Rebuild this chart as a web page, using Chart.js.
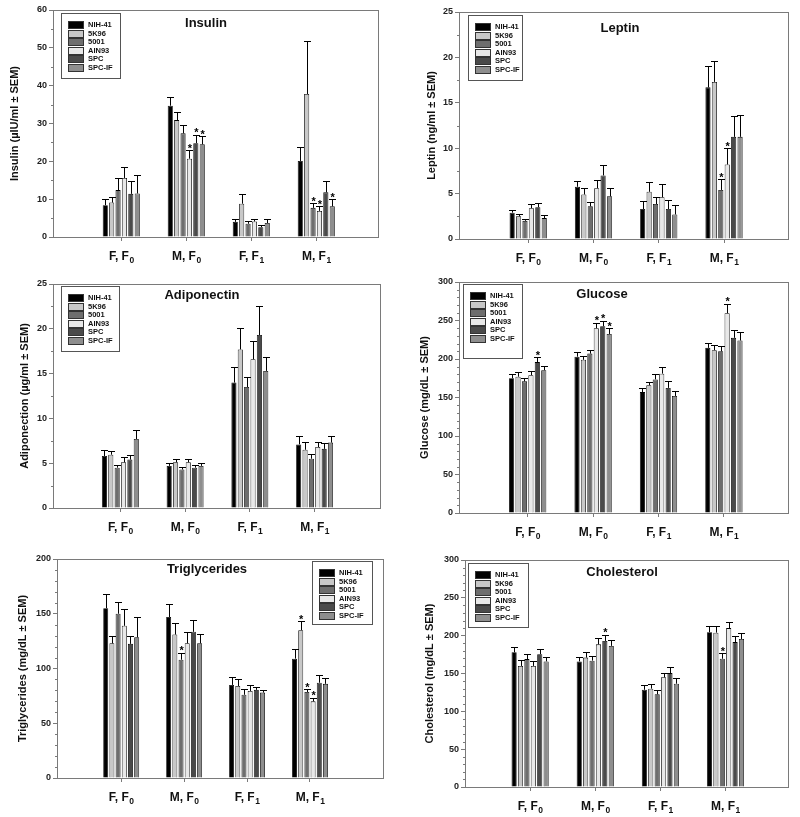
<!DOCTYPE html>
<html>
<head>
<meta charset="utf-8">
<script src="https://cdn.jsdelivr.net/npm/chart.js@4.4.1/dist/chart.umd.min.js"></script>
<style>
  body { margin: 0; background: #fff; }
  #wrap { position: relative; width: 800px; height: 817px; }
  .cell { position: absolute; }
</style>
</head>
<body>
<div id="wrap"></div>
<script>
// ── Data ───────────────────────────────────────────────────────────────────
const diets     = ["NIH-41", "5K96", "5001", "AIN93", "SPC", "SPC-IF"];
const groupSex  = ["F", "M", "F", "M"];
const groupGen  = ["0", "0", "1", "1"];   // subscript generation

// each row = one diet, columns = F,F0 / M,F0 / F,F1 / M,F1
const insulinMean = [
  [8.4, 34.7, 4.0, 20.1],
  [9.1, 30.9, 8.8, 37.8],
  [12.4, 27.4, 3.5, 7.7],
  [15.6, 20.7, 4.1, 6.9],
  [11.4, 24.8, 2.6, 11.8],
  [11.5, 24.5, 3.7, 8.1],
];
const insulinSem = [
  [1.6, 2.2, 0.8, 3.8],
  [1.5, 2.2, 2.5, 14.1],
  [3.1, 2.2, 0.6, 1.2],
  [2.8, 2.2, 0.7, 1.2],
  [3.3, 2.2, 0.7, 3.1],
  [4.9, 2.1, 1.0, 1.9],
];
const insulinStars = [[3, 1], [4, 1], [5, 1], [2, 3], [3, 3], [5, 3]];
const insulinTicks = [0, 10, 20, 30, 40, 50, 60];

const leptinMean = [
  [2.9, 5.75, 3.3, 16.7],
  [2.5, 4.9, 5.2, 17.3],
  [2.0, 3.6, 3.85, 5.4],
  [3.4, 5.6, 4.6, 8.2],
  [3.5, 7.0, 3.3, 11.25],
  [2.3, 4.7, 2.7, 11.25],
];
const leptinSem = [
  [0.3, 0.65, 0.9, 2.4],
  [0.3, 0.7, 1.1, 2.3],
  [0.2, 0.5, 0.75, 1.2],
  [0.5, 0.9, 1.5, 1.8],
  [0.5, 1.2, 0.95, 2.25],
  [0.3, 0.9, 1.0, 2.45],
];
const leptinStars = [[2, 3], [3, 3]];
const leptinTicks = [0, 5, 10, 15, 20, 25];

const adipoMean = [
  [5.8, 4.7, 14.0, 7.1],
  [5.95, 5.1, 17.7, 6.5],
  [4.5, 4.3, 13.5, 5.5],
  [5.1, 5.1, 16.6, 6.8],
  [5.4, 4.5, 19.3, 6.6],
  [7.7, 4.7, 15.3, 7.3],
];
const adipoSem = [
  [0.7, 0.3, 1.7, 0.9],
  [0.4, 0.4, 2.35, 0.85],
  [0.3, 0.25, 1.1, 0.5],
  [0.6, 0.35, 2.0, 0.6],
  [0.5, 0.35, 3.2, 0.6],
  [1.05, 0.3, 1.6, 0.7],
];
const adipoStars = [];
const adipoTicks = [0, 5, 10, 15, 20, 25];

const glucoseMean = [
  [175, 203, 157, 214.5],
  [177, 199, 166, 211.5],
  [171, 207, 173.5, 210],
  [179, 240, 181, 259.5],
  [196, 242.5, 162.5, 227.5],
  [185.5, 232.5, 152, 224],
];
const glucoseSem = [
  [5, 6, 5, 6.5],
  [6, 5.5, 4, 7],
  [4, 5, 7, 6.5],
  [5, 7, 9, 12.5],
  [6, 7, 8.5, 10],
  [5.5, 7.5, 7, 11],
];
const glucoseStars = [[4, 0], [3, 1], [4, 1], [5, 1], [3, 3]];
const glucoseTicks = [0, 50, 100, 150, 200, 250, 300];

const trigMean = [
  [155, 147, 85, 109],
  [123, 131, 84, 135],
  [150, 108, 76, 78.5],
  [139, 123, 79.5, 70],
  [122.5, 133.5, 80.5, 87],
  [128.5, 123, 78, 86],
];
const trigSem = [
  [13, 12, 7, 9],
  [7, 10.5, 6, 8],
  [10.5, 6.5, 5.5, 2.5],
  [15.5, 10.5, 5, 3.5],
  [7.5, 10.5, 3, 7.5],
  [18.5, 8.5, 2.5, 5.5],
];
const trigStars = [[2, 1], [1, 3], [2, 3], [3, 3]];
const trigTicks = [0, 50, 100, 150, 200];

const cholMean = [
  [178, 166, 128.5, 204.5],
  [160, 171, 130, 204],
  [169, 167, 122.5, 169.5],
  [160, 188.5, 145, 210],
  [175.5, 193, 150.5, 191.5],
  [166, 186.5, 136.5, 195.5],
];
const cholSem = [
  [7.5, 5.5, 6.5, 8],
  [8, 7.5, 6, 8.5],
  [7, 5.5, 6, 7.5],
  [7, 8, 5.5, 8],
  [7, 8, 8, 7.5],
  [5.5, 8, 7.5, 7.5],
];
const cholStars = [[4, 1], [2, 3]];
const cholTicks = [0, 50, 100, 150, 200, 250, 300];

// ── Styling ────────────────────────────────────────────────────────────────
const FONT = "'Liberation Sans', Arial, sans-serif";
const dietColors = ["#000000", "#c8c8c8", "#6e6e6e", "#e8e8e8", "#4a4a4a", "#8e8e8e"];
const AXIS = "#7a7a7a";

// panel layout: cell = [left, top, w, h]; plot = [l, t, r, b] inside the cell
const panels = [
  { cell: [0, 0, 400, 270], plot: [53, 10, 378, 237], xr: [-0.05, 4.95],
    title: "Insulin", tpos: [206, 23], ytitle: "Insulin (µIU/ml ± SEM)", ytx: 15,
    legend: [61, 13, 59, 65], minor: 5,
    mean: insulinMean, sem: insulinSem, stars: insulinStars, ticks: insulinTicks },
  { cell: [400, 0, 400, 270], plot: [59, 12, 388, 239], xr: [-0.06, 4.98],
    title: "Leptin", tpos: [220, 28], ytitle: "Leptin (ng/ml ± SEM)", ytx: 32,
    legend: [68, 15, 54, 65], minor: 2.5,
    mean: leptinMean, sem: leptinSem, stars: leptinStars, ticks: leptinTicks },
  { cell: [0, 270, 400, 270], plot: [53, 14, 380, 238], xr: [-0.04, 5.01],
    title: "Adiponectin", tpos: [202, 25], ytitle: "Adiponection (µg/ml ± SEM)", ytx: 25,
    legend: [61, 16, 58, 65], minor: 2.5,
    mean: adipoMean, sem: adipoSem, stars: adipoStars, ticks: adipoTicks },
  { cell: [400, 270, 400, 270], plot: [59, 12, 388, 243], xr: [-0.05, 4.98],
    title: "Glucose", tpos: [202, 24], ytitle: "Glucose (mg/dL ± SEM)", ytx: 25,
    legend: [63, 14, 59, 74], minor: 10,
    mean: glucoseMean, sem: glucoseSem, stars: glucoseStars, ticks: glucoseTicks },
  { cell: [0, 540, 400, 277], plot: [57, 19, 383, 238], xr: [-0.02, 5.16],
    title: "Triglycerides", tpos: [207, 29], ytitle: "Triglycerides (mg/dL ± SEM)", ytx: 23,
    legend: [312, 21, 60, 63], minor: 10,
    mean: trigMean, sem: trigSem, stars: trigStars, ticks: trigTicks },
  { cell: [400, 540, 400, 277], plot: [65, 20, 388, 247], xr: [0.0, 4.96],
    title: "Cholesterol", tpos: [222, 32], ytitle: "Cholesterol (mg/dL ± SEM)", ytx: 30,
    legend: [68, 23, 60, 64], minor: 10,
    mean: cholMean, sem: cholSem, stars: cholStars, ticks: cholTicks },
];

// ── Drawing helpers ────────────────────────────────────────────────────────

function panelPlugin(p) {
  return {
    id: "panelDecor",
    afterDatasetsDraw(chart) {
      const ctx = chart.ctx, y = chart.scales.y;
      ctx.save();
      ctx.strokeStyle = "#000";
      ctx.lineWidth = 1;
      // upper error bars
      diets.forEach((d, i) => {
        chart.getDatasetMeta(i).data.forEach((bar, j) => {
          const bx = Math.round(bar.x) + 0.5;
          const top = Math.round(y.getPixelForValue(p.mean[i][j] + p.sem[i][j])) + 0.5;
          ctx.beginPath();
          ctx.moveTo(bx, bar.y);
          ctx.lineTo(bx, top);
          ctx.moveTo(bx - 3.5, top);
          ctx.lineTo(bx + 3.5, top);
          ctx.stroke();
        });
      });
      // significance stars
      ctx.fillStyle = "#000";
      ctx.font = "bold 11px " + FONT;
      ctx.textAlign = "center";
      ctx.textBaseline = "alphabetic";
      p.stars.forEach(([i, j]) => {
        const bar = chart.getDatasetMeta(i).data[j];
        const top = y.getPixelForValue(p.mean[i][j] + p.sem[i][j]);
        ctx.fillText("*", bar.x + 0.5, top + 1.5);
      });
      ctx.restore();
    },
    afterDraw(chart) {
      const ctx = chart.ctx, a = chart.chartArea;
      const x = chart.scales.x, y = chart.scales.y;
      ctx.save();

      // frame
      ctx.strokeStyle = AXIS;
      ctx.lineWidth = 1;
      ctx.strokeRect(Math.round(a.left) + 0.5, Math.round(a.top) + 0.5,
                     Math.round(a.right - a.left), Math.round(a.bottom - a.top));

      // minor y ticks
      const ymax = p.ticks[p.ticks.length - 1];
      ctx.beginPath();
      for (let v = p.minor; v < ymax; v += p.minor) {
        if (p.ticks.includes(v)) continue;
        const py = Math.round(y.getPixelForValue(v)) + 0.5;
        ctx.moveTo(a.left - 2, py);
        ctx.lineTo(a.left, py);
      }
      ctx.stroke();

      // x category labels with subscript
      ctx.fillStyle = "#111";
      ctx.textBaseline = "alphabetic";
      ctx.textAlign = "left";
      groupSex.forEach((s, j) => {
        const cx = x.getPixelForValue(j + 1);
        const main = s + ", F";
        ctx.font = "bold 12px " + FONT;
        const w1 = ctx.measureText(main).width;
        ctx.font = "bold 8.5px " + FONT;
        const w2 = ctx.measureText(groupGen[j]).width;
        const x0 = cx - (w1 + w2) / 2;
        const base = a.bottom + 23;
        ctx.font = "bold 12px " + FONT;
        ctx.fillText(main, x0, base);
        ctx.font = "bold 8.5px " + FONT;
        ctx.fillText(groupGen[j], x0 + w1 + 0.5, base + 3);
      });

      // y axis title
      ctx.save();
      ctx.translate(p.ytx, (a.top + a.bottom) / 2);
      ctx.rotate(-Math.PI / 2);
      ctx.font = "bold 11px " + FONT;
      ctx.textAlign = "center";
      ctx.textBaseline = "middle";
      ctx.fillText(p.ytitle, 0, 0);
      ctx.restore();

      // panel title
      ctx.font = "bold 13px " + FONT;
      ctx.textAlign = "center";
      ctx.textBaseline = "middle";
      ctx.fillText(p.title, p.tpos[0], p.tpos[1]);

      // legend box
      const [lx, ly, lw, lh] = p.legend;
      ctx.fillStyle = "#fff";
      ctx.fillRect(lx, ly, lw, lh);
      ctx.strokeStyle = "#555";
      ctx.strokeRect(lx + 0.5, ly + 0.5, lw, lh);
      ctx.font = "bold 7.5px " + FONT;
      ctx.textAlign = "left";
      ctx.textBaseline = "middle";
      diets.forEach((d, i) => {
        const ry = ly + 11.5 + i * 8.5;
        ctx.fillStyle = dietColors[i];
        ctx.fillRect(lx + 7, Math.round(ry - 3.5), 15, 7);
        ctx.strokeStyle = "#333";
        ctx.strokeRect(lx + 7.5, Math.round(ry - 3.5) + 0.5, 15, 7);
        ctx.fillStyle = "#111";
        ctx.fillText(d, lx + 27, ry + 0.5);
      });
      ctx.restore();
    },
  };
}

function renderPanel(p) {
  const [cl, ct, cw, ch] = p.cell;
  const [pl, pt, pr, pb] = p.plot;
  const div = document.createElement("div");
  div.className = "cell";
  div.style.cssText = `left:${cl}px;top:${ct}px;width:${cw}px;height:${ch}px`;
  const canvas = document.createElement("canvas");
  canvas.width = cw;
  canvas.height = ch;
  div.appendChild(canvas);
  document.getElementById("wrap").appendChild(div);

  const datasets = diets.map((d, i) => ({
    label: d,
    data: p.mean[i].map((v, j) => ({ x: j + 1, y: v })),
    backgroundColor: dietColors[i],
    borderColor: "#000",
    borderWidth: 0.8,
    categoryPercentage: 0.59,
    barPercentage: 0.8,
  }));

  const XH = 6;
  new Chart(canvas, {
    type: "bar",
    data: { datasets },
    options: {
      responsive: false,
      animation: false,
      devicePixelRatio: 1,
      layout: { padding: { left: 0, top: pt, right: cw - pr, bottom: ch - pb - XH } },
      plugins: { legend: { display: false }, tooltip: { enabled: false } },
      scales: {
        x: {
          type: "linear",
          min: p.xr[0],
          max: p.xr[1],
          bounds: "data",
          offset: false,
          afterBuildTicks: s => { s.ticks = [1, 2, 3, 4].map(v => ({ value: v })); },
          afterFit: s => { s.height = XH; },
          grid: { offset: false, drawOnChartArea: false, tickLength: 4, color: AXIS },
          border: { display: false },
          ticks: { display: false },
        },
        y: {
          min: 0,
          max: p.ticks[p.ticks.length - 1],
          afterBuildTicks: s => { s.ticks = p.ticks.map(v => ({ value: v })); },
          afterFit: s => { s.width = pl; },
          grid: { drawOnChartArea: false, tickLength: 4, color: AXIS },
          border: { display: false },
          ticks: { color: "#222", padding: 2, font: { family: FONT, size: 9, weight: "bold" } },
        },
      },
    },
    plugins: [panelPlugin(p)],
  });
}

panels.forEach(renderPanel);
</script>
</body>
</html>
